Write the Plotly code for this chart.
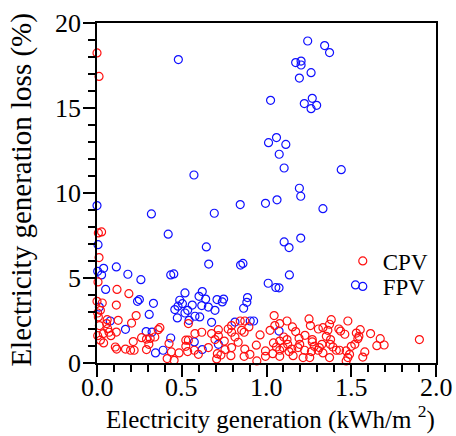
import plotly.graph_objects as go

# FPV (blue) points
fpv_x = [0.48, 1.024, 1.012, 1.059, 1.075, 0.572, 1.243, 1.343, 1.372, 1.172, 1.204, 1.204, 1.263, 1.194,
         1.223, 1.270, 1.296, 1.263, 1.114, 1.104, 1.441, 1.194, 1.202, 1.062, 0.0, 0.321, 0.692, 0.845,
         0.994, 1.333, 0.42, 0.645, 0.659, 0.847, 0.861, 1.202, 1.104, 1.133, 1.135, 0.006, 0.004, 0.039,
         0.027, 0.114, 0.182, 0.259, 0.051, 0.435, 0.453, 1.01, 1.055, 1.074, 1.525, 1.074,
         0.239, 0.25, 0.333, 0.308, 0.459, 0.478, 0.488, 0.504, 0.474, 0.014, 0.078, 0.168, 0.29, 0.325,
         0.39, 0.345, 0.519, 0.621, 0.602, 0.641, 0.708, 0.747, 0.739, 0.888, 0.884, 0.865, 0.562, 0.618,
         0.657, 0.696, 0.535, 0.519, 0.578, 0.606, 0.543, 0.676, 0.814, 0.904, 0.924, 0.574, 0.621, 0.716,
         0.435]
fpv_y = [17.85, 15.45, 12.96, 13.26, 12.28, 11.06, 18.94, 18.67, 18.26, 17.67, 17.76, 17.53, 17.08, 16.76,
         15.26, 15.57, 15.16, 14.96, 12.86, 11.47, 11.37, 10.28, 9.81, 9.6, 9.26, 8.77, 8.81, 9.32,
         9.39, 9.08, 7.58, 6.83, 5.82, 5.76, 5.86, 7.35, 7.12, 6.79, 5.18, 6.96, 5.39, 5.57,
         5.18, 5.65, 5.22, 4.9, 4.33, 5.18, 5.24, 4.69, 4.44, 4.42, 4.59, 1.88,
         3.63, 3.73, 3.51, 2.86, 3.14, 3.34, 3.69, 3.49, 2.65, 3.29, 2.47, 1.98, 1.85, 1.82,
         0.75, 0.59, 4.12, 4.2, 3.92, 3.76, 3.73, 3.76, 3.59, 3.85, 3.57, 3.22, 3.41, 3.38,
         3.29, 3.1, 3.1, 2.94, 2.75, 2.71, 2.51, 2.39, 2.41, 2.47, 2.47, 1.24, 0.79, 1.1,
         1.47]

# CPV (red) points
cpv_x = [0.0, 0.012, 0.008, 0.027, 0.012, 0.006,
         0.118, 0.188, 0.0, 0.031, 0.114, 0.004, 0.008, 0.125, 0.231, 0.204, 0.057, 0.014, 0.037, 0.071,
         0.063, 0.114, 0.004, 0.082, 0.039, 0.263, 0.214, 0.116, 0.168, 0.198, 0.219, 0.292, 0.314, 0.292,
         0.341, 0.361, 0.371, 0.306, 0.425, 0.439, 0.484, 0.414, 0.455, 0.524, 0.524,
         0.02, 0.108, 0.06, 0.02,
         0.539, 0.539, 0.578, 0.618, 0.676, 0.716, 0.716, 0.696, 0.751, 0.774, 0.794, 0.794, 0.814, 0.833,
         0.845, 0.872, 0.896, 0.868, 0.962, 1.021, 1.045, 1.049, 0.755, 0.794, 0.872, 0.657, 0.598, 0.574,
         0.535, 0.731, 0.790, 0.868, 0.706, 0.943, 0.994, 1.037, 1.041, 0.994,
         1.059, 0.902, 0.853, 0.71, 0.94,
         1.078, 1.121, 1.153, 1.172, 1.251, 1.259, 1.382, 1.372, 1.333, 1.362, 1.353, 1.378, 1.376, 1.48,
         1.427, 1.437, 1.462, 1.553, 1.614, 1.539, 1.521, 1.5, 1.58, 1.568, 1.47, 1.48, 1.47, 1.431,
         1.412, 1.372, 1.333, 1.304, 1.265, 1.255, 1.225, 1.216, 1.157, 1.149, 1.133, 1.125, 1.121, 1.192,
         1.227, 1.27, 1.27, 1.312, 1.327, 1.282, 1.196, 1.098, 1.102, 1.078, 1.671, 1.651, 1.694,
         1.902, 1.186, 1.078, 1.078, 1.53, 1.306, 1.545, 1.49, 1.392]
cpv_y = [18.24, 16.86, 7.65, 7.71, 6.2, 4.77,
         4.33, 4.08, 3.63, 3.53, 3.41, 2.94, 2.71, 2.51, 2.79, 2.35, 2.32, 2.2, 1.73, 1.81,
         2.02, 1.82, 1.61, 1.61, 1.18, 1.49, 1.26, 0.82, 0.82, 0.75, 0.75, 1.41, 1.45, 0.79,
         1.53, 1.96, 2.08, 1.1, 1.14, 0.65, 0.59, 0.26, 0.16, 1.34, 0.98,
         1.34, 0.94, 2.55, 3.1,
         2.32, 1.34, 1.73, 1.81, 1.73, 1.96, 1.61, 1.38, 1.29, 2.0, 2.2, 1.81, 1.53, 1.22,
         2.47, 2.47, 2.12, 1.81, 1.65, 1.92, 2.79, 2.2, 0.79, 0.91, 0.82, 0.91, 0.51, 0.75,
         0.67, 0.47, 0.43, 0.39, 0.24, 0.12, 0.71, 0.55, 1.18, 0.39,
         0.94, 0.51, 1.92, 0.55, 1.05,
         2.32, 2.47, 2.12, 1.85, 2.59, 2.2, 2.55, 2.28, 2.08, 1.92, 1.57, 1.38, 1.1, 2.47,
         2.0, 1.88, 1.69, 1.96, 1.73, 1.43, 1.1, 0.98, 0.65, 0.35, 0.71, 0.32, 0.12, 0.75,
         0.75, 0.32, 0.59, 0.75, 0.67, 0.32, 0.75, 0.32, 0.43, 0.82, 0.67, 1.1, 1.38, 1.45,
         1.63, 1.38, 1.24, 0.91, 1.1, 0.98, 1.1, 0.91, 1.53, 0.75, 1.43, 1.02, 1.06,
         1.38, 0.91, 1.29, 0.39, 1.76, 2.0, 1.57, 0.51, 0.94]

# Tick labels
x_tick_vals = [0.0, 0.5, 1.0, 1.5, 2.0]
x_tick_text = ["0.0", "0.5", "1.0", "1.5", "2.0"]
y_tick_vals = [0, 5, 10, 15, 20]
y_tick_text = ["0", "5", "10", "15", "20"]

x_title = "Electricity generation (kWh/m <sup>2</sup>)"
y_title = "Electricity generation loss (%)"

FONT = "Liberation Serif"

fig = go.Figure()
fig.add_trace(go.Scatter(
    x=fpv_x, y=fpv_y, mode="markers", name="FPV", legend="legend2", showlegend=True,
    cliponaxis=False,
    marker=dict(symbol="circle-open", size=8, color="#1010ff", line=dict(width=1.2, color="#1010ff")),
))
fig.add_trace(go.Scatter(
    x=cpv_x, y=cpv_y, mode="markers", name="CPV", legend="legend", showlegend=True,
    cliponaxis=False,
    marker=dict(symbol="circle-open", size=8, color="#ff1010", line=dict(width=1.2, color="#ff1010")),
))

annotations = []
for v, t in zip(x_tick_vals, x_tick_text):
    annotations.append(dict(x=v, y=0, xref="x", yref="paper", text=t, showarrow=False,
                            xanchor="center", yanchor="top", yshift=-8,
                            font=dict(family=FONT, size=26, color="black")))
for v, t in zip(y_tick_vals, y_tick_text):
    annotations.append(dict(x=0, y=v, xref="paper", yref="y", text=t, showarrow=False,
                            xanchor="right", yanchor="middle", xshift=-14,
                            font=dict(family=FONT, size=26, color="black")))
annotations.append(dict(x=0.513, y=0, xref="paper", yref="paper", text=x_title, showarrow=False,
                        xanchor="center", yanchor="top", yshift=-36,
                        font=dict(family=FONT, size=25, color="black")))
annotations.append(dict(x=0, y=0.51, xref="paper", yref="paper", text=y_title, showarrow=False,
                        textangle=-90, xanchor="center", yanchor="middle", xshift=-75,
                        font=dict(family=FONT, size=29, color="black")))

legend_font = dict(family=FONT, size=23, color="black")
fig.update_layout(
    width=456, height=436,
    font=dict(family=FONT, size=26, color="black"),
    showlegend=True,
    margin=dict(l=97, r=20, t=23, b=73),
    paper_bgcolor="white", plot_bgcolor="white",
    xaxis=dict(
        range=[0, 2.0], tickvals=x_tick_vals, showticklabels=False,
        showline=True, linewidth=2, linecolor="black", mirror=True,
        ticks="outside", ticklen=12, tickwidth=2, tickcolor="black",
        showgrid=False, zeroline=False, automargin=False,
        minor=dict(dtick=0.1, ticklen=7, tickwidth=1.5, ticks="outside", tickcolor="black"),
    ),
    yaxis=dict(
        range=[0, 20], tickvals=y_tick_vals, showticklabels=False,
        showline=True, linewidth=2, linecolor="black", mirror=True,
        ticks="outside", ticklen=12, tickwidth=2, tickcolor="black",
        showgrid=False, zeroline=False, automargin=False,
        minor=dict(dtick=1, ticklen=7, tickwidth=1.5, ticks="outside", tickcolor="black"),
    ),
    annotations=annotations,
    legend=dict(visible=True, x=0.725, y=0.30, xanchor="left", yanchor="middle", font=legend_font,
                bgcolor="rgba(0,0,0,0)"),
    legend2=dict(visible=True, x=0.725, y=0.225, xanchor="left", yanchor="middle", font=legend_font,
                 bgcolor="rgba(0,0,0,0)"),
)

fig.write_html("out.html")
